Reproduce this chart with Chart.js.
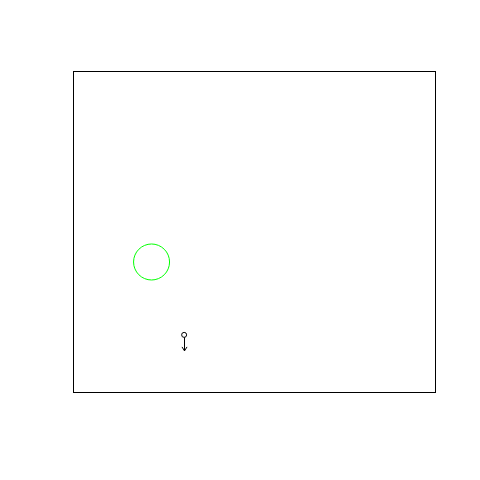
<!DOCTYPE html>
<html>
<head>
<meta charset="utf-8">
<script src="https://cdn.jsdelivr.net/npm/chart.js@4"></script>
<style>
  html, body { margin: 0; padding: 0; background: #fff; }
  #wrap { width: 480px; height: 480px; }
</style>
</head>
<body>
<div id="wrap"><canvas id="c" width="480" height="480"></canvas></div>
<script>
// data (plot units, x 0..10, y 0..10)
const ringX = [2.17];
const ringY = [4.05];
const originX = [3.07];
const originY = [1.78];
const arrowEndY = [1.28];

// frame + arrow drawn from the scales
const framePlugin = {
  id: 'frame',
  afterDatasetsDraw(chart) {
    const { ctx, chartArea: a, scales } = chart;
    ctx.save();
    ctx.strokeStyle = '#000';
    ctx.lineWidth = 1;
    ctx.strokeRect(Math.round(a.left) + 0.5, Math.round(a.top) + 0.5,
      Math.round(a.right - a.left), Math.round(a.bottom - a.top));

    // arrow from origin point down
    originX.forEach((x, i) => {
      const px = Math.round(scales.x.getPixelForValue(x)) + 0.5;
      const y0 = scales.y.getPixelForValue(originY[i]) + 2.5;
      const y1 = scales.y.getPixelForValue(arrowEndY[i]);
      ctx.beginPath();
      ctx.moveTo(px, y0);
      ctx.lineTo(px, y1);
      ctx.moveTo(px - 2.5, y1 - 4);
      ctx.lineTo(px, y1);
      ctx.lineTo(px + 2.5, y1 - 4);
      ctx.stroke();
    });
    ctx.restore();
  },
};

new Chart(document.getElementById('c'), {
  type: 'scatter',
  data: {
    datasets: [
      {
        data: ringX.map((x, i) => ({ x, y: ringY[i] })),
        pointRadius: 18,
        pointBorderWidth: 1,
        pointBorderColor: '#00ff00',
        pointBackgroundColor: 'transparent',
      },
      {
        data: originX.map((x, i) => ({ x, y: originY[i] })),
        pointRadius: 2.5,
        pointBorderWidth: 1,
        pointBorderColor: '#000',
        pointBackgroundColor: 'transparent',
      },
    ],
  },
  options: {
    responsive: false,
    animation: false,
    layout: { padding: { left: 73, top: 71, right: 45, bottom: 88 } },
    plugins: { legend: { display: false }, tooltip: { enabled: false } },
    scales: {
      x: { display: false, min: 0, max: 10 },
      y: { display: false, min: 0, max: 10 },
    },
  },
  plugins: [framePlugin],
});
</script>
</body>
</html>
